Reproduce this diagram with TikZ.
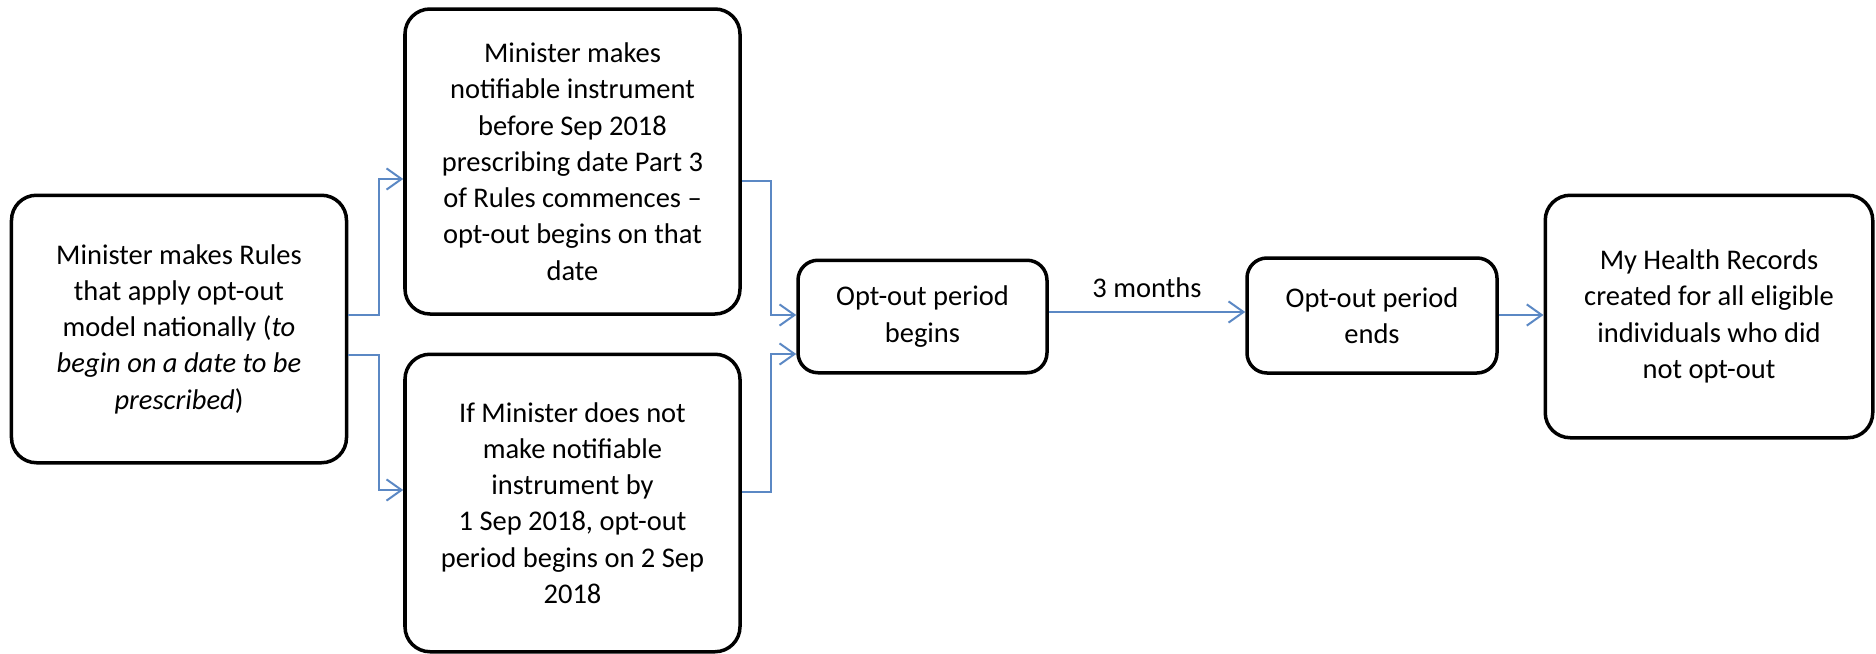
\documentclass[tikz,border=0pt]{standalone}
\usepackage{fontspec}
\setmainfont{Carlito}
\usetikzlibrary{arrows.meta,calc}
\definecolor{conncol}{RGB}{91,136,196}
\begin{document}
\begin{tikzpicture}[x=0.4pt,y=-0.4pt,
  txt/.style={font=\fontsize{11.4pt}{14.5pt}\selectfont},
  box/.style={draw=black,line width=1.4pt,rounded corners=10pt,align=center,
    inner sep=0pt,txt},
  smallbox/.style={box,rounded corners=8pt},
  conn/.style={draw=conncol,line width=0.8pt,-{Straight Barb[length=6pt,width=8.5pt]}}]
\useasboundingbox (0,0) rectangle (1876,654);
\node[box,minimum width=134pt,minimum height=107pt] (b1) at (179,329)
  {Minister makes Rules\\that apply opt-out\\model nationally (\textit{to}\\\textit{begin on a date to be}\\\textit{prescribed})};
\node[box,minimum width=134pt,minimum height=122pt] (b2) at (572.5,161.5)
  {Minister makes\\notifiable instrument\\before Sep 2018\\prescribing date Part 3\\of Rules commences --\\opt-out begins on that\\date};
\node[box,minimum width=134pt,minimum height=119pt] (b3) at (572.5,503)
  {If Minister does not\\make notifiable\\instrument by\\1 Sep 2018, opt-out\\period begins on 2 Sep\\2018};
\node[smallbox,minimum width=99.6pt,minimum height=45pt] (b4) at (922.5,316.5)
  {Opt-out period\\begins};
\node[smallbox,minimum width=100pt,minimum height=46pt] (b5) at (1372,315.5)
  {Opt-out period\\ends};
\node[box,minimum width=131pt,minimum height=97pt] (b6) at (1709,316.5)
  {My Health Records\\created for all eligible\\individuals who did\\not opt-out};
\draw[conn] ($(b1.east)+(0,-14)$) -- ++(31,0) |- ($(b2.west)+(0,17.5)$);
\draw[conn] ($(b1.east)+(0,26)$) -- ++(31,0) |- ($(b3.west)+(0,-13)$);
\draw[conn] ($(b2.east)+(0,19.5)$) -- ++(29,0) |- ($(b4.west)+(0,-1.5)$);
\draw[conn] ($(b3.east)+(0,-11)$) -- ++(29,0) |- ($(b4.west)+(0,37.5)$);
\coordinate (m1) at ($(b4.east)+(0,-4.5)$);
\draw[conn] (m1) -- (m1 -| b5.west)
  node[midway,above=2pt,txt,text=black] (lbl) {3 months};
\coordinate (m2) at ($(b5.east)+(0,-0.5)$);
\draw[conn] (m2) -- (m2 -| b6.west);
\end{tikzpicture}
\end{document}
